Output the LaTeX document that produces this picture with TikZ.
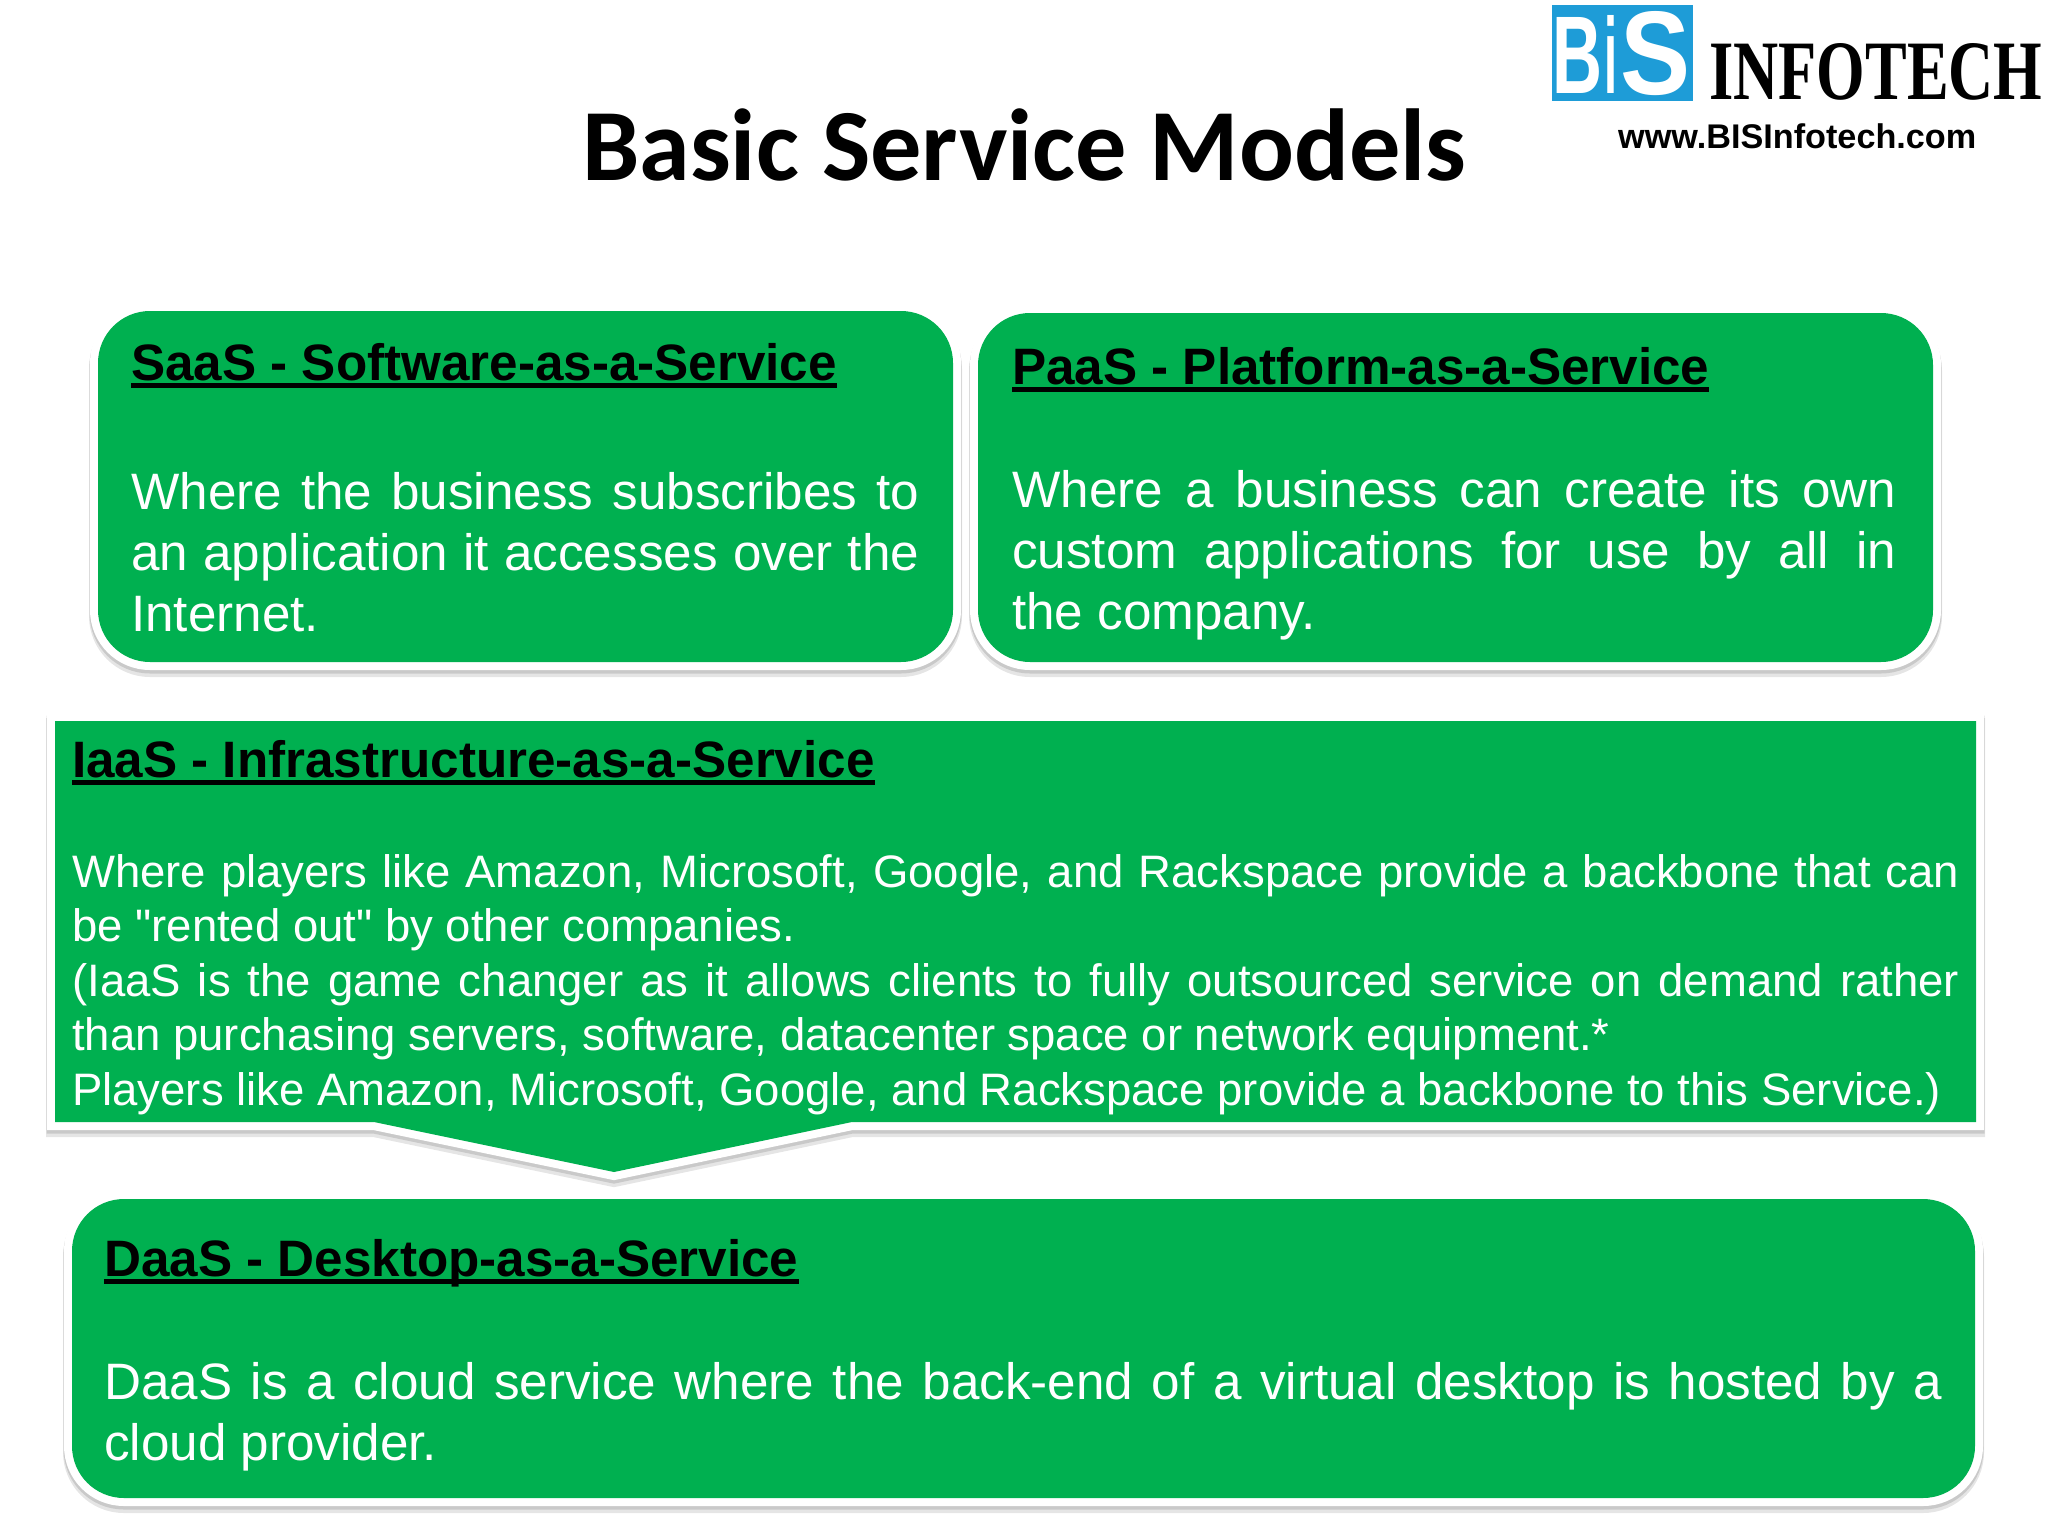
\documentclass[tikz,border=0pt]{standalone}
\usepackage{fontspec}
\usepackage{graphicx}
\setmainfont{Liberation Sans}
\newfontfamily\titlefont{Carlito}
\newfontfamily\logoserif{Liberation Serif}
\newfontfamily\straightq{Liberation Sans}
\definecolor{boxgreen}{HTML}{00B050}
\definecolor{logoblue}{HTML}{1E9CD7}
\newcommand\hd[1]{\setbox0\hbox{#1}\rlap{\rule[-7.5pt]{\wd0}{5pt}}\box0}
\tikzset{
  panel/.style={fill=boxgreen,line join=miter,
    preaction={draw=black,opacity=.10,line width=18pt,transform canvas={yshift=-6pt}},
    preaction={draw=black,opacity=.12,line width=17pt,transform canvas={yshift=-3pt}},
    preaction={draw=white,line width=16pt}},
  roundpanel/.style={panel,rounded corners=52pt},
  heading/.style={anchor=base west,inner sep=0pt,text=black,font=\fontsize{51.2pt}{58pt}\selectfont\bfseries},
  bodytext/.style={anchor=base west,inner sep=0pt,text=white},
  logoletter/.style={inner sep=0pt,anchor=south west,text=white},
}
\begin{document}
\begin{tikzpicture}[x=1pt,y=-1pt]
\useasboundingbox (0,0) rectangle (2048,1536);
\fill[white] (0,0) rectangle (2048,1536);
% title
\node[anchor=base,inner sep=0pt] (title) at (1024.5,180) {\titlefont\fontsize{102.3pt}{110pt}\selectfont\bfseries Basic Service Models};
% logo
\node[fill=logoblue,minimum width=141pt,minimum height=96pt,inner sep=0pt,anchor=north west] (logobox) at (1552,5) {};
\node[logoletter] (logob) at (1552,94) {\resizebox{50pt}{76pt}{\bfseries B}};
\node[logoletter] (logoi) at (1604,94) {\resizebox{13pt}{78pt}{\bfseries i}};
\node[logoletter] (logos) at (1620,96) {\resizebox{70pt}{83pt}{\bfseries S}};
\node[inner sep=0pt,anchor=base west] (logoname) at (1709,100) {\resizebox{333pt}{56pt}{\logoserif\bfseries INFOTECH}};
\node[inner sep=0pt,anchor=base west] (logourl) at (1618,149) {\resizebox{358pt}{!}{\bfseries www.BISInfotech.com}};
% SaaS
\path[roundpanel] (98,311) rectangle (953,662);
\node[heading] (saash) at (131,380) {\hd{SaaS - Software-as-a-Service}};
\node[bodytext] (saasb) at (131,509) {\parbox[t]{788pt}{\fontsize{51.2pt}{61.4pt}\selectfont\hbadness=10000 \tolerance=10000 \parindent=0pt Where the business subscribes to\linebreak an application it accesses over the\linebreak Internet.}};
% PaaS
\path[roundpanel] (978,313) rectangle (1933,662);
\node[heading] (paash) at (1012,384) {\hd{PaaS - Platform-as-a-Service}};
\node[bodytext] (paasb) at (1012,507) {\parbox[t]{884pt}{\fontsize{51.2pt}{61.4pt}\selectfont\hbadness=10000 \tolerance=10000 \parindent=0pt Where a business can create its own\linebreak custom applications for use by all in\linebreak the company.}};
% IaaS
\path[panel] (55,721) -- (1976,721) -- (1976,1122) -- (852,1122) -- (614,1172) -- (374,1122) -- (55,1122) -- cycle;
\node[heading] (iaash) at (72,777) {\hd{IaaS - Infrastructure-as-a-Service}};
\node[bodytext] (iaasb) at (72,887) {\parbox[t]{1887pt}{\fontsize{45.5pt}{54.6pt}\selectfont\hbadness=10000 \tolerance=10000 \parindent=0pt Where players like Amazon, Microsoft, Google, and Rackspace provide a backbone that can\linebreak be {\straightq"}rented out{\straightq"} by other companies.\newline (IaaS is the game changer as it allows clients to fully outsourced service on demand rather\linebreak than purchasing servers, software, datacenter space or network equipment.*\newline Players like Amazon, Microsoft, Google, and Rackspace provide a backbone to this Service.)}};
% DaaS
\path[roundpanel] (72,1199) rectangle (1975,1498);
\node[heading] (daash) at (104,1276) {\hd{DaaS - Desktop-as-a-Service}};
\node[bodytext] (daasb) at (104,1399) {\parbox[t]{1838pt}{\fontsize{51.2pt}{61.4pt}\selectfont\hbadness=10000 \tolerance=10000 \parindent=0pt DaaS is a cloud service where the back-end of a virtual desktop is hosted by a\linebreak cloud provider.}};
\end{tikzpicture}
\end{document}
